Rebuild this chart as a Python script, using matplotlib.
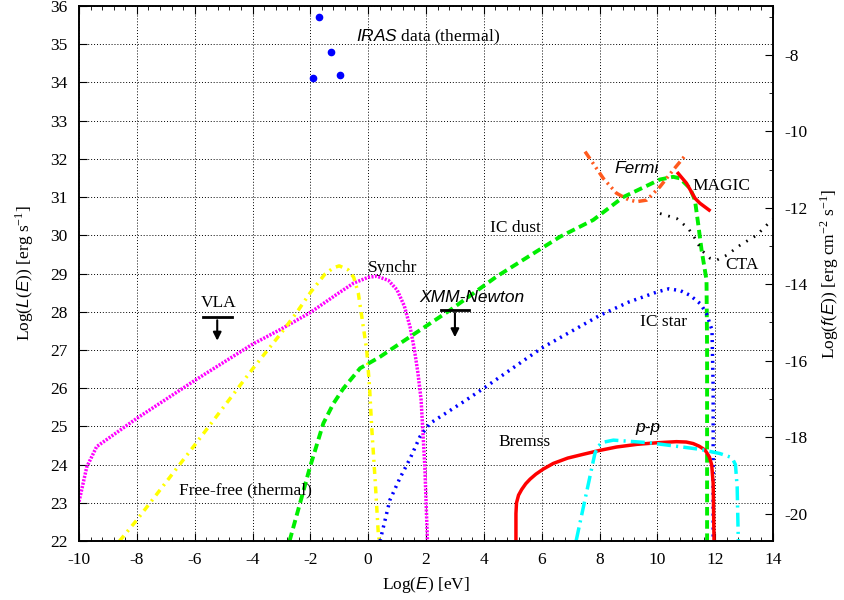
import matplotlib
matplotlib.use('Agg')
import matplotlib.pyplot as plt
from matplotlib.ticker import MultipleLocator

plt.rcParams['font.family'] = 'Liberation Serif'
plt.rcParams['mathtext.fontset'] = 'custom'
plt.rcParams['mathtext.rm'] = 'Liberation Serif'
plt.rcParams['mathtext.it'] = 'Liberation Sans:italic'
plt.rcParams['axes.unicode_minus'] = False

# offset between the two y axes, Log f(E) = Log L(E) + offset
flux_offset = -42.72

# synchrotron
synchr_x = [-10.0, -9.73, -9.39, -8.0, -6.0, -4.0, -3.0, -2.0, -1.0, -0.5, 0.0, 0.3, 0.7, 1.0, 1.25, 1.45, 1.6, 1.72, 1.83, 1.96, 2.05]
synchr_y = [23.03, 23.94, 24.47, 25.21, 26.2, 27.15, 27.55, 27.98, 28.5, 28.75, 28.9, 28.93, 28.82, 28.57, 28.15, 27.6, 27.0, 26.4, 25.7, 23.94, 22.0]

# free-free (thermal)
ff_x = [-8.6, -8.0, -6.0, -4.0, -3.0, -2.5, -2.0, -1.5, -1.2, -1.0, -0.7, -0.5, -0.34, -0.17, -0.05, 0.05, 0.12, 0.24, 0.35, 0.38]
ff_y = [22.0, 22.55, 24.51, 26.5, 27.45, 27.95, 28.5, 28.98, 29.15, 29.2, 29.1, 28.9, 28.48, 27.61, 27.0, 26.0, 25.0, 23.6, 22.2, 22.0]

# IC on dust photons
icdust_x = [-2.72, -2.36, -2.01, -1.55, -1.2, -0.86, -0.28, 0.41, 1.1, 2.83, 4.44, 6.63, 7.78, 8.82, 10.09, 10.55, 10.78, 11.13, 11.3, 11.41, 11.53, 11.7, 11.72, 11.72]
icdust_y = [22.0, 22.98, 23.94, 25.08, 25.6, 25.99, 26.52, 26.82, 27.17, 28.04, 28.92, 29.96, 30.4, 31.0, 31.46, 31.53, 31.49, 31.23, 30.92, 30.31, 29.61, 28.83, 27.0, 22.0]

# IC on star photons
icstar_x = [0.41, 0.75, 1.1, 1.45, 1.79, 2.14, 3.29, 4.0, 6.0, 8.0, 9.0, 10.0, 10.4, 10.8, 11.13, 11.5, 11.7, 11.89, 11.93, 11.93]
icstar_y = [22.0, 23.07, 23.65, 24.16, 24.73, 25.08, 25.64, 26.0, 27.05, 27.9, 28.25, 28.52, 28.6, 28.55, 28.43, 28.2, 27.95, 27.52, 26.0, 22.0]

# relativistic bremsstrahlung
bremss_x = [5.11, 5.11, 5.13, 5.2, 5.31, 5.45, 5.6, 5.8, 6.05, 6.4, 6.9, 7.44, 8.0, 8.59, 9.3, 9.97, 10.66, 11.0, 11.24, 11.45, 11.65, 11.8, 11.88, 11.93, 11.96]
bremss_y = [22.0, 22.72, 23.0, 23.2, 23.35, 23.5, 23.62, 23.75, 23.88, 24.03, 24.17, 24.27, 24.37, 24.46, 24.53, 24.57, 24.6, 24.59, 24.55, 24.48, 24.38, 24.2, 23.99, 23.51, 22.0]

# p-p
pp_x = [7.19, 7.84, 7.95, 8.1, 8.48, 9.74, 11.47, 12.16, 12.51, 12.62, 12.7, 12.76, 12.8]
pp_y = [22.0, 24.29, 24.48, 24.58, 24.64, 24.57, 24.4, 24.29, 24.2, 24.12, 24.0, 23.42, 22.0]

# Fermi sensitivity
fermi_x = [7.5, 7.78, 8.13, 8.59, 9.0, 9.28, 9.63, 10.09, 10.55, 11.01]
fermi_y = [32.19, 31.88, 31.49, 31.1, 30.93, 30.88, 30.92, 31.27, 31.71, 32.13]

# MAGIC
magic_x = [10.72, 11.01, 11.3, 11.47, 11.79]
magic_y = [31.62, 31.36, 30.97, 30.84, 30.66]

# CTA sensitivity
cta_x = [10.09, 10.67, 11.07, 11.3, 11.53, 11.82, 12.05, 12.4, 12.86, 13.43, 13.89, 14.0]
cta_y = [30.57, 30.44, 30.18, 29.92, 29.61, 29.4, 29.35, 29.48, 29.74, 30.0, 30.35, 30.42]

# IRAS data (thermal)
iras_x = [-1.69, -1.29, -1.9, -0.97]
iras_y = [35.72, 34.79, 34.11, 34.19]

# upper limits: x centre, half width, bar level, arrow tip
vla_ul = [-5.22, 0.5, 27.85, 27.17]
xmm_ul = [3.0, 0.49, 28.04, 27.26]

fig = plt.figure(figsize=(8.44, 6.0), dpi=100)
ax = fig.add_axes([0.0936, 0.0983, 0.8223, 0.8917])

ax.plot(synchr_x, synchr_y, color='#ff00ff', lw=2.5, linestyle=(0, (0.6, 0.4)))
ax.plot(ff_x, ff_y, color='#ffff00', lw=2.5, linestyle=(0, (2.0, 1.5, 0.6, 1.5)))
ax.plot(icdust_x, icdust_y, color='#00ee00', lw=2.8, linestyle=(0, (2.2, 1.2)))
ax.plot(icstar_x, icstar_y, color='#0000ff', lw=2.5, linestyle=(0, (0.6, 1.4)))
ax.plot(bremss_x, bremss_y, color='#ff0000', lw=2.5)
ax.plot(pp_x, pp_y, color='#00ffff', lw=2.5, linestyle=(0, (4.0, 1.5, 0.6, 1.5)))
ax.plot(fermi_x, fermi_y, color='#ff5a1e', lw=2.5, linestyle=(0, (2.5, 1.2, 0.6, 1.2, 0.6, 1.2)))
ax.plot(magic_x, magic_y, color='#ff0000', lw=2.5)
ax.plot(cta_x, cta_y, color='black', lw=2.0, linestyle=(0, (0.6, 2.5)))
ax.plot(iras_x, iras_y, 'o', color='#0000ff', ms=4.5)

# upper limits
for xc, hw, yb, yt in [vla_ul, xmm_ul]:
    ax.plot([xc - hw, xc + hw], [yb, yb], color='black', lw=2)
    ax.annotate('', xy=(xc, yt), xytext=(xc, yb),
                arrowprops=dict(arrowstyle='-|>', color='black', lw=1.5, mutation_scale=12))

# labels
fs = 12.5
ax.text(-0.42, 35.18, r'$\mathit{IRAS}$ data (thermal)', fontsize=fs, va='center')
ax.text(0.86, 29.14, 'Synchr', fontsize=fs, ha='center', va='center')
ax.text(-5.18, 28.22, 'VLA', fontsize=fs, ha='center', va='center')
ax.text(3.6, 28.38, 'XMM-Newton', fontsize=fs, ha='center', va='center', family='Liberation Sans', style='italic')
ax.text(5.08, 30.2, 'IC dust', fontsize=fs, ha='center', va='center')
ax.text(9.29, 31.76, 'Fermi', fontsize=fs, ha='center', va='center', family='Liberation Sans', style='italic')
ax.text(12.2, 31.3, 'MAGIC', fontsize=fs, ha='center', va='center')
ax.text(12.93, 29.22, 'CTA', fontsize=fs, ha='center', va='center')
ax.text(10.2, 27.73, 'IC star', fontsize=fs, ha='center', va='center')
ax.text(5.42, 24.6, 'Bremss', fontsize=fs, ha='center', va='center')
ax.text(9.67, 24.98, 'p-p', fontsize=fs, ha='center', va='center', family='Liberation Sans', style='italic')
ax.text(-4.26, 23.33, 'Free-free (thermal)', fontsize=fs, ha='center', va='center')

ax.set_xlim(-10, 14)
ax.set_ylim(22, 36)
ax.xaxis.set_major_locator(MultipleLocator(2))
ax.xaxis.set_minor_locator(MultipleLocator(0.4))
ax.yaxis.set_major_locator(MultipleLocator(1))
ax.grid(True, which='major', color='black', linestyle=(0, (1, 2)), lw=0.7)
ax.tick_params(axis='x', which='both', direction='in', top=True, labelsize=fs, pad=8)
ax.tick_params(axis='x', which='major', length=6)
ax.tick_params(axis='x', which='minor', length=3)
ax.tick_params(axis='y', which='major', direction='in', length=6, labelsize=fs, pad=8)
ax.set_xlabel(r'Log($\mathit{E}$) [eV]', fontsize=fs, labelpad=5)
ax.set_ylabel(r'Log($\mathit{L}$($\mathit{E}$)) [erg s$^{-1}$]', fontsize=fs, labelpad=10)

ax2 = ax.twinx()
ax2.set_ylim(22 + flux_offset, 36 + flux_offset)
ax2.yaxis.set_major_locator(MultipleLocator(2))
ax2.yaxis.set_minor_locator(MultipleLocator(1))
ax2.tick_params(axis='y', which='both', direction='in', labelsize=fs, pad=8)
ax2.tick_params(axis='y', which='major', length=6)
ax2.tick_params(axis='y', which='minor', length=3)
ax2.set_ylabel(r'Log($\mathit{f}$($\mathit{E}$)) [erg cm$^{-2}$ s$^{-1}$]', fontsize=fs, labelpad=8)

for a in (ax, ax2):
    for s in a.spines.values():
        s.set_linewidth(1.2)

plt.savefig('out.png', dpi=100)
plt.close(fig)
